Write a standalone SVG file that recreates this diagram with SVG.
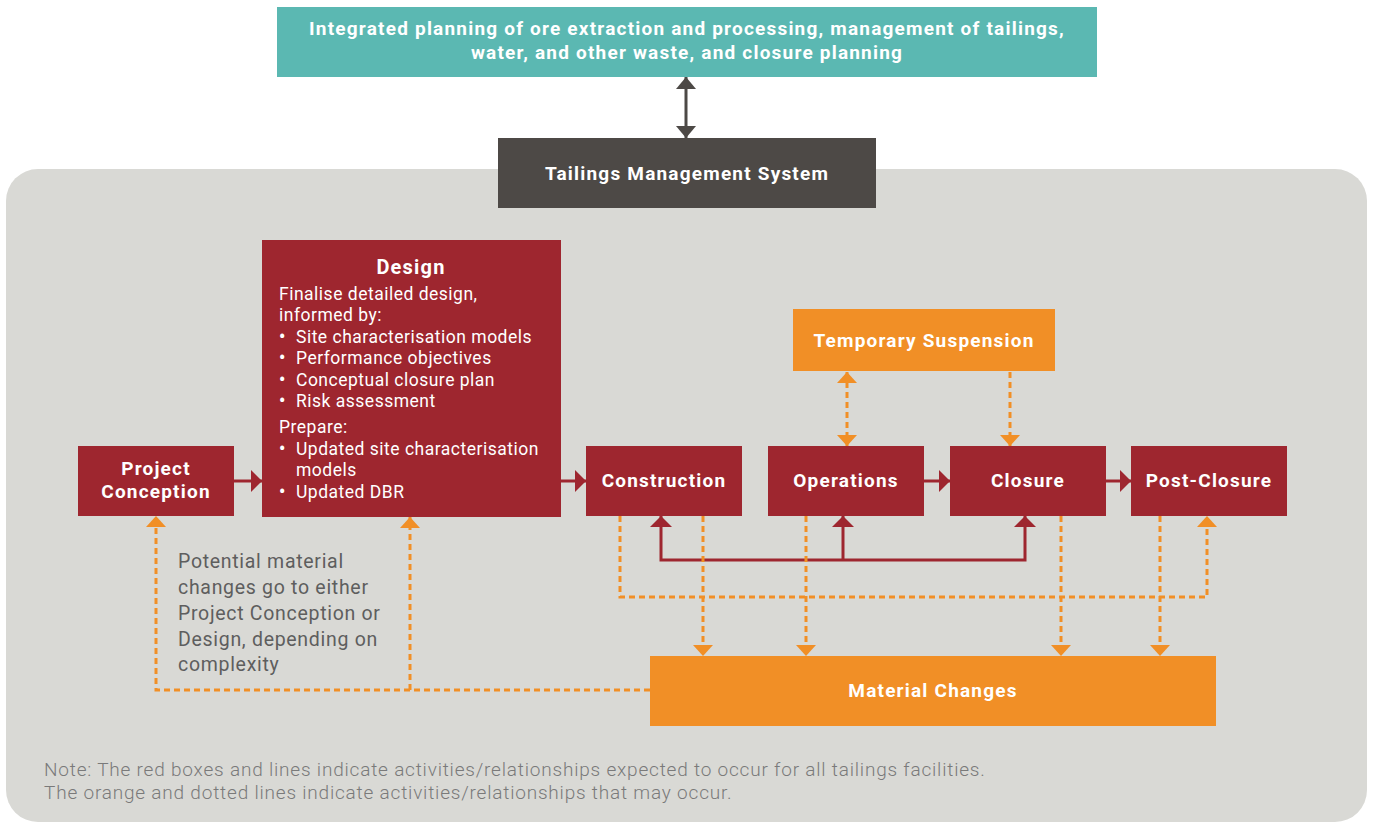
<svg xmlns="http://www.w3.org/2000/svg" width="1375" height="822" viewBox="0 0 1375 822">
<style>
.red{fill:#9e262f}
.org{fill:#f18f26}
.lbl{font-family:Roboto,"Liberation Sans",sans-serif;font-weight:bold;fill:#fff;text-anchor:middle;letter-spacing:1.2px}
.body{font-family:Roboto,"Liberation Sans",sans-serif;fill:#fff;font-size:17.5px;letter-spacing:0.5px}
.bul{font-weight:bold;letter-spacing:0}
.rl{fill:none;stroke:#9e262f;stroke-width:3}
.ol{fill:none;stroke:#f18f26;stroke-width:3;stroke-dasharray:6 4}
.gray{font-family:Roboto,"Liberation Sans",sans-serif;fill:#5e5e5e;font-size:19.5px;letter-spacing:0.7px}
.note{font-family:Roboto,"Liberation Sans",sans-serif;fill:#7a7a7a;font-size:19px;font-weight:300;letter-spacing:0.8px}
</style>
<defs>
<marker id="ra" viewBox="0 0 11 22" refX="11" refY="11" markerWidth="11" markerHeight="22" markerUnits="userSpaceOnUse" orient="auto-start-reverse"><path d="M0,0 L11,11 L0,22 Z" fill="#9e262f"/></marker>
<marker id="oa" viewBox="0 0 11 20" refX="11" refY="10" markerWidth="11" markerHeight="20" markerUnits="userSpaceOnUse" orient="auto-start-reverse"><path d="M0,0 L11,10 L0,20 Z" fill="#f18f26"/></marker>
<marker id="da" viewBox="0 0 12 20" refX="12" refY="10" markerWidth="12" markerHeight="20" markerUnits="userSpaceOnUse" orient="auto-start-reverse"><path d="M0,0 L12,10 L0,20 Z" fill="#4d4946"/></marker>
</defs>
<rect x="6" y="169" width="1361" height="653" rx="32" fill="#d9d9d5"/>
<g id="integrated">
<rect x="277" y="7" width="820" height="70" fill="#5bb8b2"/>
<text class="lbl" font-size="19" x="687" y="35">Integrated planning of ore extraction and processing, management of tailings,</text>
<text class="lbl" font-size="19" x="687" y="59">water, and other waste, and closure planning</text>
</g>
<g id="tms">
<rect x="498" y="138" width="378" height="70" fill="#4d4946"/>
<text class="lbl" font-size="19" x="687" y="180">Tailings Management System</text>
</g>
<g id="project-conception">
<rect class="red" x="78" y="446" width="156" height="70"/>
<text class="lbl" font-size="19" x="156" y="475">Project</text>
<text class="lbl" font-size="19" x="156" y="498">Conception</text>
</g>
<g id="design">
<rect class="red" x="262" y="240" width="299" height="277"/>
<text class="lbl" font-size="20" x="411" y="274">Design</text>
<text class="body" x="279" y="300">Finalise detailed design,</text>
<text class="body" x="279" y="321">informed by:</text>
<text class="body" x="279" y="343"><tspan class="bul">•</tspan><tspan x="296">Site characterisation models</tspan></text>
<text class="body" x="279" y="364"><tspan class="bul">•</tspan><tspan x="296">Performance objectives</tspan></text>
<text class="body" x="279" y="386"><tspan class="bul">•</tspan><tspan x="296">Conceptual closure plan</tspan></text>
<text class="body" x="279" y="407"><tspan class="bul">•</tspan><tspan x="296">Risk assessment</tspan></text>
<text class="body" x="279" y="433">Prepare:</text>
<text class="body" x="279" y="455"><tspan class="bul">•</tspan><tspan x="296">Updated site characterisation</tspan></text>
<text class="body" x="296" y="476">models</text>
<text class="body" x="279" y="498"><tspan class="bul">•</tspan><tspan x="296">Updated DBR</tspan></text>
</g>
<g id="construction">
<rect class="red" x="586" y="446" width="156" height="70"/>
<text class="lbl" font-size="19" x="664" y="487">Construction</text>
</g>
<g id="operations">
<rect class="red" x="768" y="446" width="156" height="70"/>
<text class="lbl" font-size="19" x="846" y="487">Operations</text>
</g>
<g id="closure">
<rect class="red" x="950" y="446" width="156" height="70"/>
<text class="lbl" font-size="19" x="1028" y="487">Closure</text>
</g>
<g id="post-closure">
<rect class="red" x="1131" y="446" width="156" height="70"/>
<text class="lbl" font-size="19" x="1209" y="487">Post-Closure</text>
</g>
<g id="temporary-suspension">
<rect class="org" x="793" y="309" width="262" height="62"/>
<text class="lbl" font-size="19" x="924" y="347">Temporary Suspension</text>
</g>
<g id="material-changes">
<rect class="org" x="650" y="656" width="566" height="70"/>
<text class="lbl" font-size="19" x="933" y="697">Material Changes</text>
</g>
<g id="connectors">
<path d="M686,77 V138" fill="none" stroke="#4d4946" stroke-width="3" marker-start="url(#da)" marker-end="url(#da)"/>
<path class="rl" d="M234,481 H262" marker-end="url(#ra)"/>
<path class="rl" d="M561,481 H586" marker-end="url(#ra)"/>
<path class="rl" d="M924,481 H950" marker-end="url(#ra)"/>
<path class="rl" d="M1106,481 H1131" marker-end="url(#ra)"/>
<path class="rl" d="M661,516 V560 H1025 V516" marker-start="url(#ra)" marker-end="url(#ra)"/>
<path class="rl" d="M843,560 V516" marker-end="url(#ra)"/>
<path class="ol" d="M847,372 V446" marker-start="url(#oa)" marker-end="url(#oa)"/>
<path class="ol" d="M1010,372 V446" marker-end="url(#oa)"/>
<path class="ol" d="M620,516 V597 H1207 V516" marker-end="url(#oa)"/>
<path class="ol" d="M703,516 V656" marker-end="url(#oa)"/>
<path class="ol" d="M806,516 V656" marker-end="url(#oa)"/>
<path class="ol" d="M1061,516 V656" marker-end="url(#oa)"/>
<path class="ol" d="M1160,516 V656" marker-end="url(#oa)"/>
<path class="ol" d="M650,690 H156 V516" marker-end="url(#oa)"/>
<path class="ol" d="M410,690 V517" marker-end="url(#oa)"/>
</g>
<g id="annotation">
<text class="gray" x="178" y="568">Potential material</text>
<text class="gray" x="178" y="594">changes go to either</text>
<text class="gray" x="178" y="620">Project Conception or</text>
<text class="gray" x="178" y="646">Design, depending on</text>
<text class="gray" x="178" y="671">complexity</text>
</g>
<g id="note">
<text class="note" x="44" y="776">Note: The red boxes and lines indicate activities/relationships expected to occur for all tailings facilities.</text>
<text class="note" x="44" y="799">The orange and dotted lines indicate activities/relationships that may occur.</text>
</g>
</svg>
